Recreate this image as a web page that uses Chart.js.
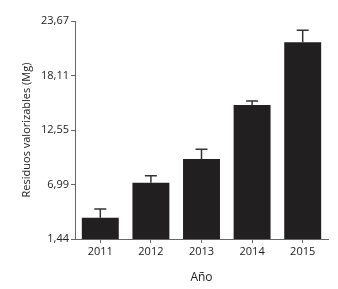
<!DOCTYPE html>
<html>
<head>
<meta charset="utf-8">
<script src="https://cdn.jsdelivr.net/npm/chart.js@4/dist/chart.umd.min.js"></script>
<style>
  html, body { margin: 0; padding: 0; background: #fff; }
  #wrap { width: 338px; height: 289px; }
</style>
</head>
<body>
<div id="wrap"><canvas id="plot_canvas"></canvas></div>
<script>
// data
const years = ["2011", "2012", "2013", "2014", "2015"];
const residuos = [3.61, 7.18, 9.60, 15.11, 21.50];
const errores = [0.89, 0.72, 0.99, 0.40, 1.22];
const yTicks = [1.44, 6.99, 12.55, 18.11, 23.67];

const fmt = v => v.toFixed(2).replace(".", ",");

// simple error bars, drawn from the bar tops
const errorBars = {
    id: "errorBars",
    afterDatasetsDraw(chart) {
        const ctx = chart.ctx;
        const y = chart.scales.y;
        const meta = chart.getDatasetMeta(0);
        ctx.save();
        ctx.strokeStyle = "#333";
        ctx.lineWidth = 1.5;
        meta.data.forEach((bar, i) => {
            let top = y.getPixelForValue(residuos[i] + errores[i]);
            ctx.beginPath();
            ctx.moveTo(bar.x, bar.y);
            ctx.lineTo(bar.x, top);
            ctx.moveTo(bar.x - 6, top);
            ctx.lineTo(bar.x + 6, top);
            ctx.stroke();
        });
        ctx.restore();
    }
};

const config = {
    type: "bar",
    data: {
        labels: years,
        datasets: [{
            data: residuos,
            backgroundColor: "#221f21",
            barPercentage: 0.73,
            categoryPercentage: 1
        }]
    },
    options: {
        responsive: true,
        maintainAspectRatio: false,
        animation: false,
        layout: { padding: { left: 16, right: 10, top: 21, bottom: 0 } },
        plugins: { legend: { display: false }, tooltip: { enabled: false } },
        scales: {
            x: {
                grid: { display: true, drawOnChartArea: false, tickLength: 4, color: "#666", offset: false },
                border: { color: "#666", width: 1 },
                ticks: { color: "#222", font: { family: "Open Sans", size: 11 }, padding: 2 },
                title: { display: true, text: "Año", color: "#222", font: { family: "Open Sans", size: 12 }, padding: { top: 8, bottom: 4 } },
                afterFit(scale) { scale.height = 50; }
            },
            y: {
                min: yTicks[0],
                max: yTicks[yTicks.length - 1],
                afterBuildTicks(scale) { scale.ticks = yTicks.map(v => ({ value: v })); },
                grid: { display: true, drawOnChartArea: false, tickLength: 4, color: "#666" },
                border: { color: "#666", width: 1 },
                ticks: {
                    color: "#222",
                    font: { family: "Open Sans", size: 11 },
                    padding: 2,
                    callback: v => fmt(v)
                },
                title: { display: true, text: "Residuos valorizables (Mg)", color: "#222", font: { family: "Open Sans", size: 11 }, padding: { top: 4, bottom: 4 } },
                afterFit(scale) { scale.width = 59; }
            }
        }
    },
    plugins: [errorBars]
};

new Chart(document.getElementById("plot_canvas"), config);
</script>
</body>
</html>
